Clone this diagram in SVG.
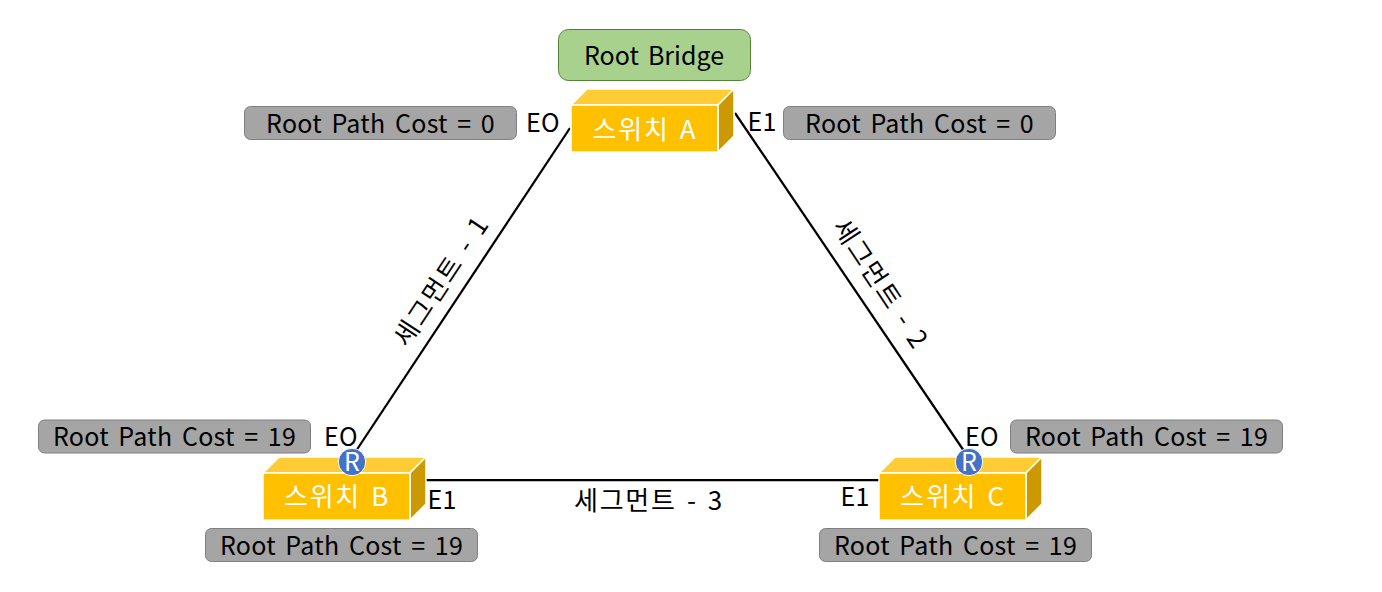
<svg xmlns="http://www.w3.org/2000/svg" width="1382" height="592" viewBox="0 0 1382 592">
<style>
text{font-family:"Noto Sans CJK KR","Noto Sans",sans-serif;font-size:25px;fill:#000;text-anchor:middle;letter-spacing:.3px;word-spacing:3.5px}
.w{fill:#fff}
.k{font-size:26px;letter-spacing:1.8px;word-spacing:2.5px}
.cost{fill:#a5a5a5;stroke:#7f7f7f;stroke-width:1}
.front{fill:#ffc000;stroke:#fff;stroke-width:1.5}
.top{fill:#ffcd33;stroke:#fff;stroke-width:1.5}
.side{fill:#cc9a00;stroke:#fff;stroke-width:1.5}
.link{stroke:#000;stroke-width:2.25;fill:none}
.r{fill:#4472c4;stroke:#fff;stroke-width:1}
</style>
<defs>
<g id="box">
<path class="top" d="M-1 15L15 -1H162L146 15Z"/>
<path class="side" d="M146 15L162 -1V46L146 62Z"/>
<rect class="front" x="-1" y="15" width="147" height="47"/>
</g>
<rect id="cost" class="cost" width="272" height="33" rx="6"/>
</defs>
<g id="connectors">
<line class="link" x1="570" y1="128" x2="356" y2="451"/>
<line class="link" x1="735" y1="113" x2="964" y2="451"/>
<line class="link" x1="426" y1="480" x2="880" y2="480"/>
</g>
<g id="root-bridge"><rect x="558.500" y="29.500" width="192" height="51" rx="10" fill="#a9d18e" stroke="#548235"/><text x="654" y="65" style="letter-spacing:0">Root Bridge</text></g>
<g id="switch-a"><use href="#box" x="572" y="90"/><text class="w k" x="645" y="139">스위치 A</text></g>
<g id="switch-b"><use href="#box" x="264" y="458"/><text class="w k" x="337" y="506">스위치 B</text></g>
<g id="switch-c"><use href="#box" x="880" y="458"/><text class="w k" x="953" y="506">스위치 C</text></g>
<g id="r-b"><circle class="r" cx="352" cy="462" r="13.700"/><text class="w" x="352" y="470.500">R</text></g>
<g id="r-c"><circle class="r" cx="969" cy="462" r="13.700"/><text class="w" x="969" y="470.500">R</text></g>
<g id="cost-a-e0"><use href="#cost" x="244.500" y="106.500"/><text x="380.500" y="133">Root Path Cost = 0</text></g>
<g id="cost-a-e1"><use href="#cost" x="783.500" y="106.500"/><text x="919.500" y="133">Root Path Cost = 0</text></g>
<g id="cost-b-e0"><use href="#cost" x="38.500" y="420"/><text x="174.500" y="446">Root Path Cost = 19</text></g>
<g id="cost-c-e0"><use href="#cost" x="1010.500" y="420"/><text x="1146.500" y="446">Root Path Cost = 19</text></g>
<g id="cost-b-e1"><use href="#cost" x="205.500" y="528.500"/><text x="341.500" y="555">Root Path Cost = 19</text></g>
<g id="cost-c-e1"><use href="#cost" x="819.500" y="528.500"/><text x="955.500" y="555">Root Path Cost = 19</text></g>
<g id="port-labels">
<text x="543" y="132">EO</text><text x="762" y="131">E1</text>
<text x="341" y="446">EO</text><text x="442" y="509">E1</text>
<text x="982" y="446">EO</text><text x="855" y="506">E1</text>
</g>
<g id="segment-labels">
<text class="k" transform="translate(449 286) rotate(-56.500)">세그먼트 - 1</text>
<text class="k" transform="translate(873 289) rotate(56.500)">세그먼트 - 2</text>
<text class="k" x="649" y="510">세그먼트 - 3</text>
</g>
</svg>
